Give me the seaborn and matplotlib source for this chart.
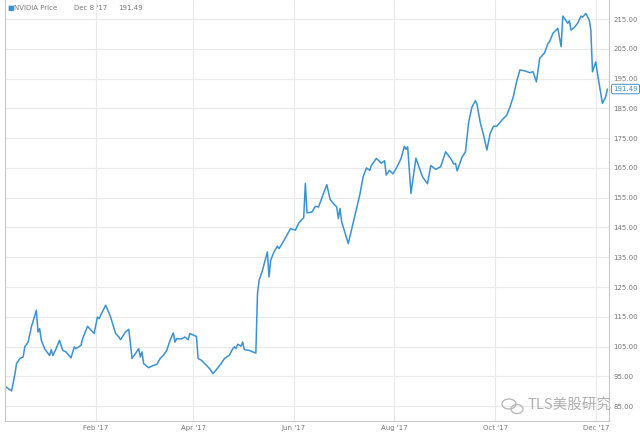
import pandas as pd
import matplotlib.pyplot as plt
from matplotlib.patches import Ellipse
import seaborn as sns

# Precio de cierre de NVIDIA
fechas = [
    "2016-12-08", "2016-12-12", "2016-12-14", "2016-12-15", "2016-12-17", "2016-12-19",
    "2016-12-20", "2016-12-22", "2016-12-24", "2016-12-27", "2016-12-28", "2016-12-29",
    "2016-12-30", "2017-01-01", "2017-01-04", "2017-01-05", "2017-01-06", "2017-01-08",
    "2017-01-10", "2017-01-12", "2017-01-14", "2017-01-17", "2017-01-19", "2017-01-20",
    "2017-01-23", "2017-01-24", "2017-01-27", "2017-01-31", "2017-02-02", "2017-02-03",
    "2017-02-07", "2017-02-10", "2017-02-13", "2017-02-15", "2017-02-16", "2017-02-19",
    "2017-02-21", "2017-02-23", "2017-02-25", "2017-02-27", "2017-02-28", "2017-03-01",
    "2017-03-02", "2017-03-05", "2017-03-08", "2017-03-10", "2017-03-12", "2017-03-14",
    "2017-03-16", "2017-03-18", "2017-03-20", "2017-03-21", "2017-03-22", "2017-03-25",
    "2017-03-27", "2017-03-29", "2017-03-30", "2017-04-03", "2017-04-04", "2017-04-06",
    "2017-04-09", "2017-04-11", "2017-04-13", "2017-04-15", "2017-04-18", "2017-04-20",
    "2017-04-23", "2017-04-25", "2017-04-26", "2017-04-27", "2017-04-28", "2017-04-30",
    "2017-05-01", "2017-05-02", "2017-05-05", "2017-05-09", "2017-05-10", "2017-05-11",
    "2017-05-13", "2017-05-16", "2017-05-17", "2017-05-18", "2017-05-20", "2017-05-22",
    "2017-05-23", "2017-05-24", "2017-05-27", "2017-05-30", "2017-06-02", "2017-06-04",
    "2017-06-07", "2017-06-08", "2017-06-09", "2017-06-12", "2017-06-14", "2017-06-16",
    "2017-06-19", "2017-06-21", "2017-06-23", "2017-06-25", "2017-06-27", "2017-06-28",
    "2017-06-29", "2017-06-30", "2017-07-04", "2017-07-11", "2017-07-13", "2017-07-15",
    "2017-07-17", "2017-07-18", "2017-07-21", "2017-07-24", "2017-07-26", "2017-07-27",
    "2017-07-29", "2017-07-31", "2017-08-02", "2017-08-04", "2017-08-05", "2017-08-07",
    "2017-08-08", "2017-08-09", "2017-08-11", "2017-08-14", "2017-08-18", "2017-08-21",
    "2017-08-23", "2017-08-26", "2017-08-29", "2017-09-01", "2017-09-04", "2017-09-06",
    "2017-09-07", "2017-09-08", "2017-09-11", "2017-09-13", "2017-09-15", "2017-09-17",
    "2017-09-19", "2017-09-20", "2017-09-22", "2017-09-24", "2017-09-26", "2017-09-28",
    "2017-09-30", "2017-10-02", "2017-10-05", "2017-10-08", "2017-10-10", "2017-10-12",
    "2017-10-14", "2017-10-16", "2017-10-19", "2017-10-22", "2017-10-24", "2017-10-26",
    "2017-10-28", "2017-10-31", "2017-11-02", "2017-11-03", "2017-11-05", "2017-11-08",
    "2017-11-10", "2017-11-11", "2017-11-14", "2017-11-15", "2017-11-16", "2017-11-18",
    "2017-11-20", "2017-11-22", "2017-11-23", "2017-11-25", "2017-11-27", "2017-11-28",
    "2017-11-29", "2017-12-01", "2017-12-02", "2017-12-05", "2017-12-07", "2017-12-08",
]
precios = [
    91.7, 90.1, 95.8, 99.3, 101.0, 101.5,
    104.9, 106.5, 111.6, 117.2, 109.9, 111.0,
    107.1, 104.3, 102.0, 104.0, 102.0, 104.3,
    107.1, 103.7, 103.2, 101.2, 104.9, 104.3,
    105.4, 107.6, 111.8, 109.4, 114.9, 114.4,
    118.9, 114.9, 109.4, 108.2, 107.3, 109.9,
    110.8, 101.0, 102.6, 104.3, 101.5, 103.2,
    99.3, 97.9, 98.7, 99.0, 101.0, 102.1,
    103.7, 107.1, 109.6, 106.5, 107.6, 107.6,
    108.2, 107.3, 109.4, 108.4, 101.0, 100.4,
    98.7, 97.6, 95.9, 97.2, 99.3, 101.0,
    102.1, 104.3, 104.9, 104.3, 105.8, 105.1,
    106.5, 104.0, 103.7, 102.8, 122.8, 127.3,
    130.6, 136.8, 128.4, 134.0, 136.8, 138.7,
    137.9, 138.7, 141.6, 144.6, 144.1, 146.5,
    148.3, 159.8, 149.9, 150.2, 152.1, 151.9,
    156.4, 159.4, 154.4, 153.0, 151.9, 148.0,
    151.4, 146.9, 139.6, 156.0, 162.0, 165.0,
    164.2, 165.8, 168.2, 166.6, 167.4, 162.6,
    164.2, 163.0, 164.8, 167.0, 168.2, 172.3,
    171.2, 172.1, 156.4, 168.3, 162.0, 159.7,
    165.8, 164.5, 165.4, 170.4, 168.2, 166.3,
    166.5, 164.0, 168.7, 170.4, 180.5, 185.5,
    187.6, 186.4, 180.2, 176.0, 171.0, 176.6,
    179.0, 179.0, 181.0, 182.7, 185.5, 188.9,
    193.9, 197.9, 197.6, 197.0, 197.3, 193.9,
    201.8, 203.7, 206.8, 207.4, 210.2, 211.9,
    205.7, 216.0, 213.6, 214.4, 211.3, 212.2,
    213.6, 216.0, 215.6, 216.9, 214.7, 211.3,
    197.3, 200.6, 196.7, 186.7, 188.9, 191.49,
]
marcas_y = [85, 95, 105, 115, 125, 135, 145, 155, 165, 175, 185, 195, 205, 215]
meses_x = ["2017-02-01", "2017-04-01", "2017-06-01", "2017-08-01", "2017-10-01", "2017-12-01"]
etiquetas_x = ["Feb '17", "Apr '17", "Jun '17", "Aug '17", "Oct '17", "Dec '17"]

df = pd.DataFrame({"Fecha": pd.to_datetime(fechas), "Precio": precios})

sns.set_style("white")
plt.rcParams['font.family'] = ['DejaVu Sans']

azul = "#3a92d0"
gris = "#777777"

fig = plt.figure(figsize=(6.4, 4.34), dpi=100)
ax = fig.add_axes([5 / 640, 13 / 434, 604 / 640, 421 / 434])

sns.lineplot(data=df, x="Fecha", y="Precio", color=azul, linewidth=1.1, ax=ax)

ax.set_xlim(pd.Timestamp("2016-12-08"), pd.Timestamp("2017-12-09"))
ax.set_ylim(80, 221.4)

ax.set_yticks(marcas_y)
ax.set_yticklabels([f"{v:.2f}" for v in marcas_y])
ax.yaxis.tick_right()
ax.set_xticks(pd.to_datetime(meses_x))
ax.set_xticklabels(etiquetas_x)
ax.tick_params(axis="both", length=0, labelsize=5, labelcolor=gris, pad=3)
ax.set_xlabel("")
ax.set_ylabel("")

ax.grid(True, color="#e9e9e9", linewidth=0.8)
for lado in ["left", "right", "bottom"]:
    ax.spines[lado].set_color("#c8c8c8")
    ax.spines[lado].set_linewidth(0.8)
ax.spines["top"].set_visible(False)

# Cabecera tipo leyenda
fig.text(7 / 640, 1 - 8 / 434, "\u25a0", color=azul, fontsize=5, va="center")
fig.text(14 / 640, 1 - 8 / 434, "NVIDIA Price", color=gris, fontsize=5, va="center")
fig.text(74 / 640, 1 - 8 / 434, "Dec 8 '17", color=gris, fontsize=5, va="center")
fig.text(118 / 640, 1 - 8 / 434, "191.49", color=gris, fontsize=5, va="center")

# Etiqueta del último precio
ax.annotate(f"{precios[-1]:.2f}", xy=(1.0, precios[-1]), xycoords=("axes fraction", "data"),
            xytext=(3, 0), textcoords="offset points", fontsize=5, color=azul, va="center",
            bbox=dict(boxstyle="round,pad=0.25", fc="white", ec=azul, lw=0.7),
            annotation_clip=False)

# Marca de agua (icono + texto)
for cx, cy, w, h in [(509, 404, 14, 10), (517, 409, 12, 9)]:
    fig.add_artist(Ellipse((cx / 640, 1 - cy / 434), w / 640, h / 434,
                           transform=fig.transFigure, fill=False,
                           ec="#b5b5b5", lw=0.9))
fig.text(528 / 640, 1 - 405 / 434, "TLS美股研究", color="#b0b0b0", fontsize=10.5,
         va="center", family=["Noto Sans CJK SC", "DejaVu Sans"])

fig.savefig("out.png", dpi=100)
